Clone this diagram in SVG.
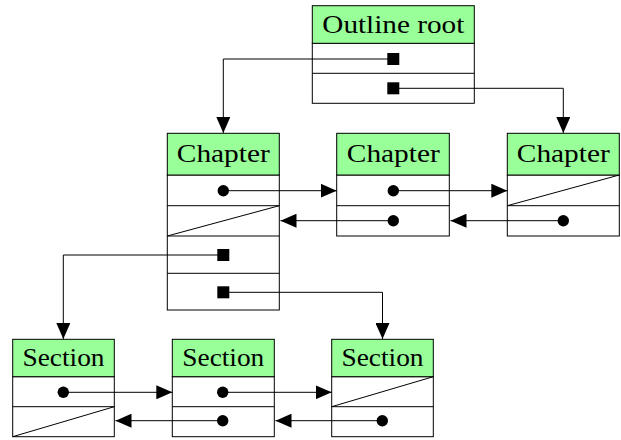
<svg xmlns="http://www.w3.org/2000/svg" width="621" height="440" viewBox="0 0 621 440">
<defs>
<style>
.box{fill:#fff;stroke:#000;stroke-width:1}
.hdr{fill:#99ff99;stroke:#000;stroke-width:1}
.ln{fill:none;stroke:#000;stroke-width:1}
.t{font-family:"Liberation Serif","Times New Roman",serif;font-size:26px;fill:#000;text-anchor:middle}
.dot{fill:#000}
</style>
<marker id="ah" markerUnits="userSpaceOnUse" markerWidth="17" markerHeight="14" refX="16" refY="7" orient="auto">
<path d="M0,0 L16,7 L0,14 Z" fill="#000"/>
</marker>
</defs>
<rect width="621" height="440" fill="#fff"/>

<g id="outline-root">
<rect class="box" x="312.3" y="43.3" width="162" height="60"/>
<line class="ln" x1="312.3" y1="73.3" x2="474.3" y2="73.3"/>
<rect class="hdr" x="312.3" y="5.7" width="162" height="37.6"/>
<text class="t" x="393.3" y="33.3" textLength="142" lengthAdjust="spacingAndGlyphs">Outline root</text>
</g>

<g id="chapter1">
<rect class="box" x="167.3" y="175" width="112" height="135"/>
<line class="ln" x1="167.3" y1="205.7" x2="279.3" y2="205.7"/>
<line class="ln" x1="167.3" y1="236" x2="279.3" y2="236"/>
<line class="ln" x1="167.3" y1="273.3" x2="279.3" y2="273.3"/>
<line class="ln" x1="167.3" y1="236" x2="279.3" y2="205.7"/>
<rect class="hdr" x="167.3" y="133.3" width="112" height="41.7"/>
<text class="t" x="223.3" y="161.7" textLength="93" lengthAdjust="spacingAndGlyphs">Chapter</text>
</g>

<g id="chapter2">
<rect class="box" x="336.7" y="175" width="112.6" height="61"/>
<line class="ln" x1="336.7" y1="205.7" x2="449.3" y2="205.7"/>
<rect class="hdr" x="336.7" y="133.3" width="112.6" height="41.7"/>
<text class="t" x="393.3" y="161.7" textLength="93" lengthAdjust="spacingAndGlyphs">Chapter</text>
</g>

<g id="chapter3">
<rect class="box" x="507.3" y="175" width="112" height="61"/>
<line class="ln" x1="507.3" y1="205.7" x2="619.3" y2="205.7"/>
<line class="ln" x1="507.3" y1="205.7" x2="619.3" y2="175"/>
<rect class="hdr" x="507.3" y="133.3" width="112" height="41.7"/>
<text class="t" x="563.3" y="161.7" textLength="93" lengthAdjust="spacingAndGlyphs">Chapter</text>
</g>

<g id="section1">
<rect class="box" x="12.7" y="376.7" width="101.6" height="60"/>
<line class="ln" x1="12.7" y1="406.7" x2="114.3" y2="406.7"/>
<line class="ln" x1="12.7" y1="436.7" x2="114.3" y2="406.7"/>
<rect class="hdr" x="12.7" y="339.3" width="101.6" height="37.4"/>
<text class="t" x="63.5" y="366" textLength="82" lengthAdjust="spacingAndGlyphs">Section</text>
</g>

<g id="section2">
<rect class="box" x="172.3" y="376.7" width="102" height="60"/>
<line class="ln" x1="172.3" y1="406.7" x2="274.3" y2="406.7"/>
<rect class="hdr" x="172.3" y="339.3" width="102" height="37.4"/>
<text class="t" x="223.3" y="366" textLength="82" lengthAdjust="spacingAndGlyphs">Section</text>
</g>

<g id="section3">
<rect class="box" x="331.7" y="376.7" width="101.6" height="60"/>
<line class="ln" x1="331.7" y1="406.7" x2="433.3" y2="406.7"/>
<line class="ln" x1="331.7" y1="406.7" x2="433.3" y2="376.7"/>
<rect class="hdr" x="331.7" y="339.3" width="101.6" height="37.4"/>
<text class="t" x="382.5" y="366" textLength="82" lengthAdjust="spacingAndGlyphs">Section</text>
</g>

<g id="connectors">
<path class="ln" d="M393.3,59 H223.3 V133" marker-end="url(#ah)"/>
<path class="ln" d="M393.3,88.3 H563.3 V133" marker-end="url(#ah)"/>
<path class="ln" d="M223.3,190.7 H336.7" marker-end="url(#ah)"/>
<path class="ln" d="M393.3,220.7 H280.5" marker-end="url(#ah)"/>
<path class="ln" d="M393.3,190.7 H507.3" marker-end="url(#ah)"/>
<path class="ln" d="M563.3,220.7 H450.5" marker-end="url(#ah)"/>
<path class="ln" d="M223.3,255 H63.3 V339" marker-end="url(#ah)"/>
<path class="ln" d="M223.3,292.3 H382.5 V339" marker-end="url(#ah)"/>
<path class="ln" d="M63.3,392.3 H172.3" marker-end="url(#ah)"/>
<path class="ln" d="M222.7,420.7 H115.5" marker-end="url(#ah)"/>
<path class="ln" d="M222.7,392.3 H331.7" marker-end="url(#ah)"/>
<path class="ln" d="M382.3,420.7 H275.5" marker-end="url(#ah)"/>
<rect class="dot" x="387.3" y="53" width="12" height="12"/>
<rect class="dot" x="387.3" y="82.3" width="12" height="12"/>
<rect class="dot" x="217.3" y="249" width="12" height="12"/>
<rect class="dot" x="217.3" y="286.3" width="12" height="12"/>
<circle class="dot" cx="223.3" cy="190.7" r="5.7"/>
<circle class="dot" cx="393.3" cy="190.7" r="5.7"/>
<circle class="dot" cx="393.3" cy="220.7" r="5.7"/>
<circle class="dot" cx="563.3" cy="220.7" r="5.7"/>
<circle class="dot" cx="63.3" cy="392.3" r="5.7"/>
<circle class="dot" cx="222.7" cy="392.3" r="5.7"/>
<circle class="dot" cx="222.7" cy="420.7" r="5.7"/>
<circle class="dot" cx="382.3" cy="420.7" r="5.7"/>
</g>
</svg>
